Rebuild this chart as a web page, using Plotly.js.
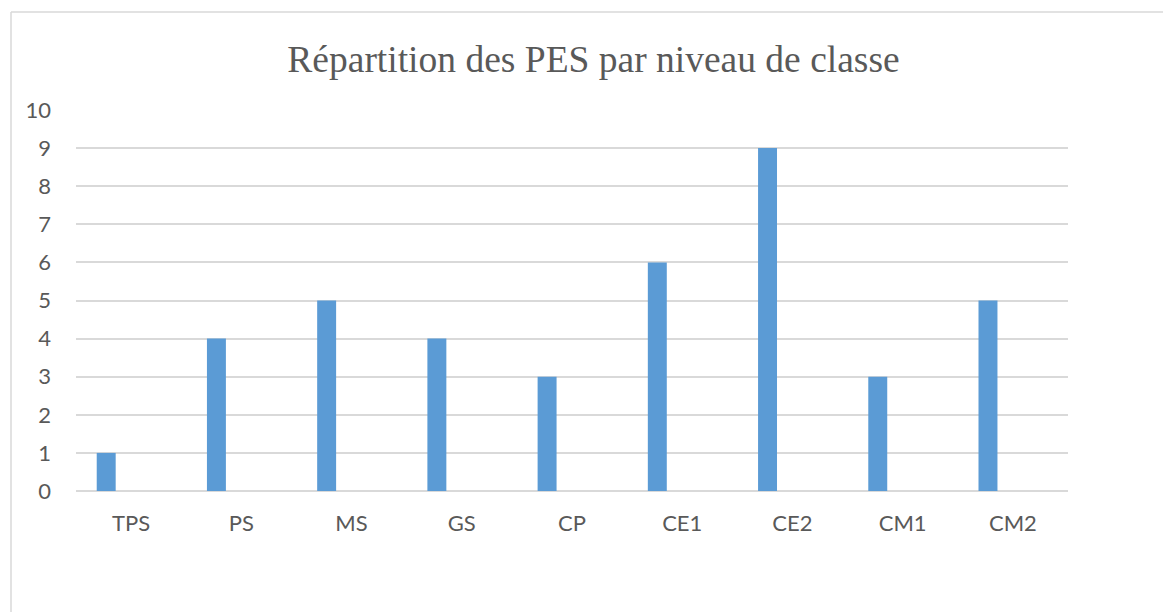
<!DOCTYPE html>
<html>
<head>
<meta charset="utf-8">
<script src="https://cdn.plot.ly/plotly-3.0.1.min.js"></script>
<style>html,body{margin:0;padding:0;background:#fff;}#chart{width:1163px;height:612px;}</style>
</head>
<body>
<div id="chart"></div>
<script>
const categories = ["TPS", "PS", "MS", "GS", "CP", "CE1", "CE2", "CM1", "CM2"];
const values = [1, 4, 5, 4, 3, 6, 9, 3, 5];
const yTicks = [0, 1, 2, 3, 4, 5, 6, 7, 8, 9, 10];
const titleText = "Répartition des PES par niveau de classe";

const W = 1163, H = 612;
const L = 76, R = 1068, T = 110, B = 491;
const px = x => (x - L) / (R - L);
const py = y => (B - y) / (B - T);

const trace = {
  type: "bar",
  x: categories,
  y: values,
  width: 0.172,
  offset: -0.312,
  marker: {color: "#5b9bd5", line: {width: 0}},
  hoverinfo: "x+y"
};

const layout = {
  width: W, height: H,
  margin: {l: L, r: W - R, t: T, b: H - B, pad: 0},
  paper_bgcolor: "#ffffff",
  plot_bgcolor: "#ffffff",
  showlegend: false,
  font: {family: "Lato, sans-serif", color: "#595959", size: 22},
  title: {
    text: titleText,
    font: {family: "Liberation Serif, Times New Roman, serif", size: 37.5, color: "#595959"},
    x: 593.5 / W, xanchor: "center", xref: "container",
    y: 1 - 59 / H, yanchor: "middle", yref: "container"
  },
  xaxis: {
    type: "category",
    showgrid: false,
    showline: false,
    zeroline: false,
    ticks: "",
    ticklabelstandoff: 17,
    tickfont: {size: 22, color: "#595959"},
    range: [-0.5, categories.length - 0.5],
    fixedrange: true
  },
  yaxis: {
    range: [0, 10],
    tickvals: yTicks,
    ticktext: yTicks.map(String),
    showgrid: true,
    gridcolor: "#d9d9d9",
    gridwidth: 2,
    zeroline: true,
    zerolinecolor: "#d9d9d9",
    zerolinewidth: 2,
    showline: false,
    ticks: "",
    ticklabelstandoff: 24,
    tickfont: {size: 22, color: "#595959"},
    fixedrange: true
  },
  shapes: [
    {type: "line", xref: "paper", yref: "paper", x0: px(11), x1: px(1175), y0: py(12), y1: py(12), line: {color: "#d9d9d9", width: 1.5}},
    {type: "line", xref: "paper", yref: "paper", x0: px(11), x1: px(11), y0: py(12), y1: py(625), line: {color: "#d9d9d9", width: 1.5}}
  ]
};

Plotly.newPlot("chart", [trace], layout, {displayModeBar: false, staticPlot: true});
</script>
</body>
</html>
